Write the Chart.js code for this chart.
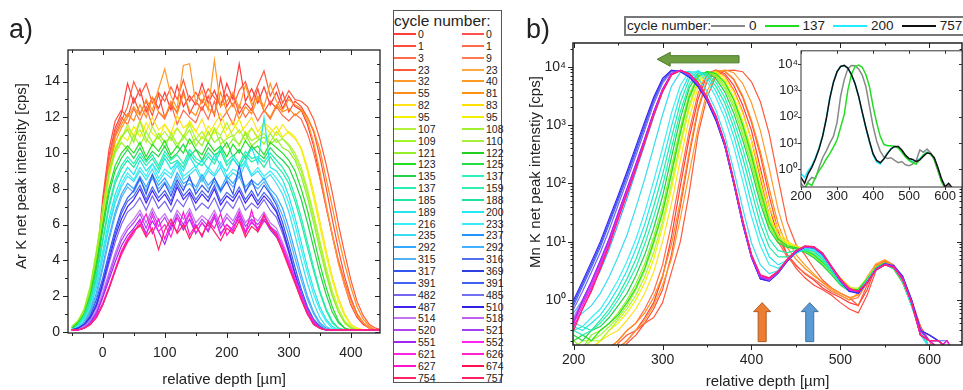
<!DOCTYPE html>
<html><head><meta charset="utf-8">
<script src="https://cdn.jsdelivr.net/npm/chart.js@4.4.1/dist/chart.umd.min.js"></script>
<style>
html,body{margin:0;padding:0;}
body{width:963px;height:390px;overflow:hidden;background:#fff;position:relative;font-family:"Liberation Sans",Arial,sans-serif;color:#222;}
canvas{position:absolute;}
.txt{position:absolute;white-space:nowrap;}
.rot{position:absolute;white-space:nowrap;transform:translate(-50%,-50%) rotate(-90deg);font-size:15px;}
#legA{position:absolute;left:393px;top:10px;width:107px;height:371px;border:1px solid #555;background:#fff;}
#legA .ttl{position:absolute;left:0px;top:0px;font-size:15.5px;line-height:20px;}
.lrow{position:absolute;height:12px;display:flex;align-items:center;font-size:10.5px;line-height:12px;}
.lrow .ln{display:inline-block;width:22px;height:2px;margin-right:2px;}
#legB{position:absolute;left:624px;top:16px;width:360px;height:16px;border:2px solid #777;background:#fff;display:flex;align-items:center;font-size:13.5px;line-height:16px;}
#legB .ln{display:inline-block;width:34px;height:2px;margin:0 4px 0 0;}
#legB .lb{margin-right:8px;}
</style></head>
<body>
<canvas id="ca" width="390" height="390" style="left:0;top:0"></canvas>
<canvas id="cb" width="443" height="390" style="left:520px;top:0"></canvas>
<canvas id="ci" width="193" height="165" style="left:770px;top:40px"></canvas>
<div class="txt" style="left:9px;top:14px;font-size:27px;">a)</div>
<div class="txt" style="left:526px;top:14px;font-size:27px;">b)</div>
<div class="rot" style="left:20px;top:176px;">Ar K net peak intensity [cps]</div>
<div class="rot" style="left:534px;top:172px;">Mn K net peak intenstiy [cps]</div>
<div id="legA"><div class="ttl">cycle number:</div></div>
<div id="legB"><span style="margin:0 0 0 1px">cycle number:</span></div>
<script>
// ---------- categories / axes ----------
const depthA = [-50,-40,-30,-20,-10,0,10,20,30,40,50,60,70,80,90,100,110,120,130,140,150,160,170,180,190,200,210,220,230,240,250,260,270,280,290,300,310,320,330,340,350,360,370,380,390,400,410,420,430,440,450];
const depthB = [200,210,220,230,240,250,260,270,280,290,300,310,320,330,340,350,360,370,380,390,400,410,420,430,440,450,460,470,480,490,500,510,520,530,540,550,560,570,580,590,600,610,620,630];
const ticksAx = [0,100,200,300,400];
const minorAx = [-50,50,150,250,350];
const ticksAy = [0,2,4,6,8,10,12,14];
const minorAy = [1,3,5,7,9,11,13,15];
const ticksBx = [200,300,400,500,600];
const minorBx = [250,350,450,550];
const ticksBy = [1,10,100,1000,10000];
const ticksIx = [200,300,400,500,600];
const ticksIy = [1,10,100,1000,10000];

// ---------- legend (cycle numbers) ----------
const labelsL = ['0','1','3','23','32','55','82','95','107','109','121','123','135','137','185','189','216','235','292','315','317','391','482','487','514','520','551','621','627','754'];
const labelsR = ['0','1','9','23','40','81','83','95','108','110','122','125','137','159','188','200','233','237','292','316','369','391','485','510','518','521','552','626','674','757'];
const colorsL = ['#ff3b3b','#ff4d3d','#ff6a4a','#ff5a3a','#ff9a2a','#ff8c1a','#ffe21a','#f2f200','#b4f23c','#a2f52a','#94ee2a','#22e022','#22d24a','#22f0b4','#22e8a2','#22e6ea','#3aeef2','#3adcf2','#36a8ff','#55b2f2','#3456f0','#4464f2','#7466f2','#4224f0','#c274f2','#b244f2','#a424f2','#ff24e2','#ff14d2','#ff2462'];
const colorsR = ['#ff5050','#ff6a4a','#ff7a50','#ffaa40','#ff9a20','#ff9010','#ffe000','#f0f000','#a0f030','#a8f040','#22d022','#22e044','#30f0c0','#30f0b0','#22e0a0','#22e8f0','#40e8f0','#2294ff','#40b0ff','#5070f0','#3040e0','#4060f0','#7070f0','#3020e0','#c060f0','#a040f0','#ff22f0','#ff22d0','#ff1050','#ff2060'];

// ---------- panel a: Ar K net peak intensity (cps) vs depthA ----------
const a0 = [null,null,null,null,null, 7.2,9.8,11.4,12.2,13.9, 12.8,13.6,12.3,13.1,12.5, 13.4,12.4,13.8,12.6,13.2, 12.7,13.9,12.8,13.5,12.6, 13.9,13.0,15.0,12.9,13.6, 12.8,13.7,12.7,13.4,12.5, 13.2,12.6,12.4,11.6,10.4, 8.7,7.0,5.4,3.9,2.6, 1.5,0.8,0.4,0.2,0.1, 0.1];
const a1 = [null,null,0.3,1.2,3.8, 7.5,10.2,11.8,12.4,12.0, 13.1,12.2,12.9,12.1,13.3, 12.0,12.7,12.3,13.5,12.2, 12.9,12.4,13.2,12.1,14.2, 12.6,13.3,12.2,12.8,12.4, 13.6,12.3,12.9,12.5,13.4, 12.3,12.9,12.6,12.0,11.2, 9.8,8.1,6.3,4.6,3.1, 1.9,1.0,0.5,0.2,0.1, 0.1];
const a2 = [0.1,0.2,0.5,1.3,3.5, 6.8,9.6,11.2,12.0,11.6, 12.5,11.8,12.6,11.5,12.3, 11.9,12.8,11.6,12.4,12.0, 11.7,12.6,11.9,12.9,11.8, 12.3,11.6,12.7,12.0,12.5, 11.8,12.4,11.9,12.6,12.1, 11.8,12.2,11.9,11.1,10.0, 8.6,7.0,5.5,4.0,2.8, 1.8,1.0,0.5,0.2,0.1, 0.1];
const a3 = [0.1,0.2,0.4,1.0,3.0, 6.2,9.0,11.0,11.8,12.6, 14.0,13.2,13.9,12.8,13.4, 12.9,13.7,13.0,14.1,12.9, 13.4,12.8,13.6,13.1,12.7, 13.3,12.6,13.5,14.0,12.9, 13.8,14.6,13.2,13.9,12.8, 13.5,13.0,12.9,12.6,11.9, 10.8,9.4,7.8,6.0,4.4, 2.9,1.7,0.9,0.4,0.2, 0.1];
const a4 = [0.1,0.2,0.5,1.2,3.2, 6.0,8.8,10.6,11.4,12.0, 12.6,12.1,13.0,12.4,13.6, 14.7,13.2,12.5,14.9,15.0, 12.8,13.5,12.4,15.2,12.6, 12.9,13.4,12.5,13.8,12.7, 13.2,12.6,13.9,12.9,12.4, 13.0,12.7,12.5,11.8,10.6, 9.0,7.2,5.4,3.8,2.6, 1.6,0.9,0.5,0.2,0.1, 0.1];
const a5 = [0.1,0.3,0.7,1.6,3.8, 6.5,9.2,10.9,11.6,12.2, 11.8,12.7,12.0,13.1,12.3, 12.0,12.9,12.2,13.3,12.4, 12.1,13.0,12.5,12.2,13.4, 12.3,12.8,11.9,12.6,12.2, 13.1,12.4,12.0,12.7,12.3, 12.5,12.1,12.4,12.0,11.3, 10.2,8.6,7.0,5.3,3.8, 2.5,1.4,0.7,0.3,0.1, 0.1];
const a6 = [0.2,0.4,0.9,1.9,3.9, 6.3,8.6,10.1,10.9,11.4, 11.0,11.8,11.2,12.0,11.3, 11.6,11.1,12.1,11.4,11.7, 11.2,11.9,11.0,11.6,12.2, 11.3,11.8,11.1,11.5,12.0, 11.2,11.7,11.4,11.0,11.6, 11.1,10.8,10.3,9.2,7.8, 6.2,4.6,3.1,1.9,1.0, 0.4,0.2,0.1,0.1,0.1, 0.1];
const a7 = [0.2,0.5,1.0,2.1,4.2, 6.6,8.9,10.3,11.0,10.7, 11.5,10.9,11.7,11.1,10.8, 11.6,11.0,11.4,10.9,11.8, 11.2,10.8,11.5,11.1,11.7, 10.9,11.3,11.9,11.0,11.4, 10.8,11.6,11.1,11.5,10.9, 11.2,10.9,10.2,9.0,7.5, 5.9,4.3,2.9,1.7,0.9, 0.4,0.2,0.1,0.1,0.1, 0.1];
const a8 = [0.3,0.6,1.3,2.6,4.6, 6.9,9.0,10.2,10.8,11.6, 10.9,11.3,10.6,11.5,10.8, 11.2,10.7,11.4,10.9,11.6, 10.8,11.2,10.6,11.3,11.0, 11.7,10.9,11.3,10.7,11.4, 10.9,11.1,10.6,11.2,10.8, 10.5,10.0,9.2,8.0,6.6, 5.1,3.6,2.3,1.3,0.6, 0.3,0.1,0.1,0.1,0.1, 0.1];
const a9 = [0.2,0.5,1.1,2.3,4.3, 6.7,8.8,10.0,10.6,10.2, 11.0,10.4,11.2,10.6,10.9, 10.3,11.1,10.5,10.8,11.3, 10.4,10.9,10.6,11.4,10.5, 10.8,11.0,10.4,11.2,10.7, 10.9,10.5,11.1,10.6,10.8, 10.4,9.8,9.0,7.8,6.4, 4.9,3.4,2.1,1.1,0.5, 0.2,0.1,0.1,0.1,0.1, 0.1];
const a10 = [0.3,0.6,1.2,2.5,4.5, 6.8,8.9,10.2,10.9,11.3, 10.6,11.8,10.8,10.4,11.1, 10.6,10.9,10.3,11.0,10.5, 10.8,10.4,11.2,10.6,10.9, 10.3,10.8,10.5,11.1,10.4, 10.7,10.9,10.5,10.8,10.3, 10.1,9.6,8.7,7.5,6.1, 4.6,3.2,2.0,1.1,0.5, 0.2,0.1,0.1,0.1,0.1, 0.1];
const a11 = [0.2,0.5,1.0,2.1,3.9, 6.0,8.0,9.3,10.0,10.4, 10.0,10.6,9.8,10.5,10.1, 10.7,9.9,10.4,10.0,10.8, 10.2,9.9,10.6,10.1,10.4, 9.8,10.5,10.0,10.7,10.2, 10.4,9.9,10.6,10.3,10.0, 9.6,9.0,8.0,6.8,5.3, 3.8,2.5,1.4,0.6,0.2, 0.1,0.1,0.1,0.1,0.1, 0.1];
const a12 = [0.2,0.4,0.9,1.9,3.6, 5.7,7.7,9.0,9.7,10.2, 9.7,10.3,9.6,10.1,9.8, 10.4,9.7,10.0,10.5,9.8, 10.2,9.6,10.3,9.9,10.1, 10.6,9.8,10.2,9.7,10.4, 10.0,9.7,10.3,9.9,9.6, 9.2,8.4,7.4,6.1,4.7, 3.3,2.1,1.1,0.5,0.2, 0.1,0.1,0.1,0.1,0.1, 0.1];
const a13 = [0.1,0.4,0.9,1.8,3.3, 5.2,7.1,8.5,9.3,9.8, 9.4,10.0,9.5,9.9,9.3, 10.1,9.6,9.9,9.4,10.2, 9.7,9.5,10.0,9.6,10.3, 9.5,9.9,9.4,10.1,9.7, 9.8,9.5,10.0,9.6,9.2, 8.6,7.6,6.4,5.0,3.6, 2.3,1.3,0.6,0.2,0.1, 0.1,0.1,0.1,0.1,0.1, 0.1];
const a14 = [0.1,0.3,0.8,1.7,3.1, 5.0,6.9,8.3,9.1,9.6, 9.2,9.8,9.3,9.7,9.1, 9.9,9.4,9.6,9.2,10.0, 9.5,9.3,9.8,9.4,10.1, 9.3,9.7,9.2,9.9,9.5, 9.7,9.2,9.8,9.3,8.9, 8.3,7.3,6.1,4.7,3.4, 2.2,1.2,0.5,0.2,0.1, 0.1,0.1,0.1,0.1,0.1, 0.1];
const a15 = [0.1,0.3,0.7,1.5,2.8, 4.5,6.3,7.7,8.6,9.2, 8.8,9.6,9.0,9.4,8.9, 9.7,9.1,9.5,9.0,9.8, 9.2,9.6,9.1,9.9,9.3, 9.0,9.7,9.2,9.5,10.3, 9.4,12.0,9.2,9.0,8.5, 7.6,6.4,5.0,3.6,2.4, 1.4,0.7,0.3,0.1,0.1, 0.1,0.1,0.1,0.1,0.1, 0.1];
const a16 = [0.1,0.3,0.7,1.4,2.7, 4.3,6.0,7.4,8.3,8.9, 8.5,9.2,8.7,9.4,8.6, 9.1,8.8,9.5,8.7,9.0, 9.3,8.6,9.2,8.8,9.5, 8.7,9.1,8.9,9.6,8.8, 9.2,8.7,9.0,8.6,8.1, 7.2,6.0,4.6,3.3,2.1, 1.2,0.6,0.2,0.1,0.1, 0.1,0.1,0.1,0.1,0.1, 0.1];
const a17 = [0.1,0.2,0.6,1.3,2.5, 4.1,5.8,7.2,8.1,8.7, 8.4,9.0,8.5,9.1,8.4, 8.9,8.6,9.3,8.5,8.8, 9.1,8.4,9.0,8.7,9.2, 8.5,8.9,8.6,9.4,8.7, 9.0,8.5,8.8,8.3,7.7, 6.7,5.4,4.0,2.7,1.6, 0.8,0.3,0.1,0.1,0.1, 0.1,0.1,0.1,0.1,0.1, 0.1];
const a18 = [0.1,0.2,0.5,1.1,2.2, 3.7,5.3,6.7,7.7,8.3, 8.0,8.7,8.1,8.8,8.2, 8.6,8.0,8.9,8.3,8.5, 8.1,8.8,8.2,8.6,8.0, 8.7,8.3,8.9,8.1,8.5, 8.2,8.6,8.0,7.6,6.9, 5.8,4.5,3.2,2.0,1.1, 0.5,0.2,0.1,0.1,0.1, 0.1,0.1,0.1,0.1,0.1, 0.1];
const a19 = [0.1,0.2,0.5,1.0,2.0, 3.5,5.1,6.5,7.5,8.1, 7.8,8.5,7.9,8.6,8.0, 8.4,7.8,8.7,8.1,8.3, 7.9,8.6,8.0,8.4,7.8, 8.5,8.1,8.7,7.9,8.3, 8.0,8.4,7.8,7.3,6.5, 5.4,4.1,2.9,1.8,1.0, 0.4,0.2,0.1,0.1,0.1, 0.1,0.1,0.1,0.1,0.1, 0.1];
const a20 = [0.1,0.2,0.4,0.9,1.8, 3.0,4.4,5.7,6.8,7.5, 7.9,8.6,7.7,8.8,7.8, 8.3,7.6,8.5,7.9,8.7, 7.7,8.2,7.8,8.6,7.9, 8.4,7.7,9.3,7.8,8.5, 7.6,8.2,7.7,7.1,6.1, 4.9,3.6,2.4,1.4,0.7, 0.3,0.1,0.1,0.1,0.1, 0.1,0.1,0.1,0.1,0.1, 0.1];
const a21 = [0.1,0.2,0.4,0.8,1.6, 2.8,4.2,5.5,6.6,7.3, 7.6,8.2,7.4,8.1,7.5, 7.9,7.3,8.3,7.6,8.0, 7.4,7.9,7.5,8.2,7.3, 7.8,7.5,8.1,7.4,7.9, 7.3,7.8,7.4,6.8,5.8, 4.6,3.3,2.2,1.3,0.6, 0.3,0.1,0.1,0.1,0.1, 0.1,0.1,0.1,0.1,0.1, 0.1];
const a22 = [0.1,0.1,0.3,0.7,1.4, 2.5,3.8,5.0,6.0,6.7, 7.0,7.5,6.8,7.6,6.9, 7.3,6.7,7.4,7.0,7.7, 6.8,7.2,6.9,7.5,6.7, 7.3,6.9,7.6,6.8,7.2, 6.9,7.4,6.8,6.4,5.5, 4.4,3.2,2.1,1.2,0.6, 0.2,0.1,0.1,0.1,0.1, 0.1,0.1,0.1,0.1,0.1, 0.1];
const a23 = [0.1,0.2,0.4,0.8,1.5, 2.7,4.0,5.3,6.3,7.0, 7.4,8.0,7.2,7.9,7.3, 7.7,7.1,8.1,7.4,7.8, 7.2,7.7,7.3,8.0,7.1, 7.6,7.3,7.9,7.2,7.7, 7.1,7.6,7.2,6.7,5.7, 4.5,3.2,2.1,1.2,0.6, 0.2,0.1,0.1,0.1,0.1, 0.1,0.1,0.1,0.1,0.1, 0.1];
const a24 = [0.1,0.1,0.3,0.6,1.2, 2.2,3.3,4.4,5.3,5.9, 6.3,6.8,6.1,6.9,6.2, 6.6,6.0,6.8,6.3,6.9, 6.1,6.5,6.2,6.8,6.0, 6.6,6.2,6.9,6.1,6.5, 6.2,6.7,6.1,5.8,5.0, 4.1,3.0,2.0,1.1,0.5, 0.2,0.1,0.1,0.1,0.1, 0.1,0.1,0.1,0.1,0.1, 0.1];
const a25 = [0.1,0.1,0.2,0.5,1.1, 2.0,3.1,4.2,5.1,5.7, 6.1,6.6,5.8,6.7,5.9, 6.4,5.7,6.6,6.0,6.7, 5.8,6.3,5.9,6.6,5.8, 6.4,6.0,6.7,5.9,6.3, 6.0,6.5,5.9,5.6,4.8, 3.9,2.9,1.9,1.0,0.5, 0.2,0.1,0.1,0.1,0.1, 0.1,0.1,0.1,0.1,0.1, 0.1];
const a26 = [0.1,0.1,0.2,0.5,1.0, 1.9,2.9,3.9,4.8,5.4, 5.8,6.3,5.5,6.2,5.6, 4.9,5.9,6.4,5.7,6.3, 5.5,6.1,5.6,6.4,5.5, 6.0,5.7,6.5,5.6,6.1, 5.8,6.3,5.7,5.3,4.6, 3.7,2.8,1.8,1.0,0.4, 0.2,0.1,0.1,0.1,0.1, 0.1,0.1,0.1,0.1,0.1, 0.1];
const a27 = [0.1,0.1,0.2,0.4,0.8, 1.5,2.4,3.4,4.3,5.0, 5.5,6.2,5.4,6.5,5.6, 6.0,5.3,6.4,5.8,6.6, 5.5,6.1,5.7,6.5,5.4, 6.0,5.6,6.7,5.5,6.2, 5.7,6.6,5.8,5.5,4.8, 3.9,3.0,2.1,1.2,0.6, 0.2,0.1,0.1,0.1,0.1, 0.1,0.1,0.1,0.1,0.1, 0.1];
const a28 = [0.1,0.1,0.2,0.4,0.9, 1.6,2.5,3.5,4.5,5.2, 5.7,5.9,6.6,5.5,6.3, 5.2,6.1,5.6,6.7,5.4, 6.0,5.3,6.2,5.8,6.6, 5.4,5.9,6.3,5.5,6.8, 5.6,6.2,5.9,5.4,4.6, 3.7,2.8,1.9,1.0,0.5, 0.2,0.1,0.1,0.1,0.1, 0.1,0.1,0.1,0.1,0.1, 0.1];
const a29 = [0.1,0.1,0.2,0.4,0.8, 1.5,2.4,3.4,4.4,5.1, 5.6,6.0,5.3,5.8,4.6, 5.7,6.3,5.5,6.0,5.2, 5.9,5.4,6.1,5.6,5.1, 5.8,5.5,6.2,5.3,5.9, 5.6,6.5,5.8,5.4,4.5, 3.6,2.7,1.8,1.0,0.4, 0.2,0.1,0.1,0.1,0.1, 0.1,0.1,0.1,0.1,0.1, 0.1];
const seriesA = [a0,a1,a2,a3,a4,a5,a6,a7,a8,a9,a10,a11,a12,a13,a14,a15,a16,a17,a18,a19,a20,a21,a22,a23,a24,a25,a26,a27,a28,a29];

// ---------- panel b: Mn K net peak intensity (cps, log) vs depthB ----------
const b0 = [0.1,0.1,0.1,0.1,0.1, 0.15,0.2,0.3,0.5,0.9, 2.5,12,90,600,2800, 7200,8800,7600,4800,2200, 800,180,40,12,6, 4,2.8,2.2,1.6,1.3, 1.1,0.9,0.8,1.5,3.8, 4.6,3.6,2.1,0.9,0.3, 0.15,0.1,0.1,0.1];
const b1 = [0.1,0.1,0.1,0.1,0.1, 0.1,0.18,0.25,0.4,0.7, 1.5,6,40,300,1800, 5600,8500,8300,6000,3000, 1100,300,60,15,6, 3.5,2.4,1.8,1.5,1.2, 0.9,0.7,0.6,1.2,3.2, 4.8,4.0,2.4,1.0,0.35, 0.15,0.1,0.1,0.1];
const b2 = [0.1,0.1,0.1,0.1,0.15, 0.2,0.3,0.4,0.7,1.4, 4,20,130,800,3500, 7800,8700,7000,4000,1700, 550,120,28,10,5.5, 3.8,2.9,2.3,1.8,1.4, 1.2,1.0,1.1,2.0,4.0, 4.4,3.4,2.0,0.8,0.3, 0.15,0.1,0.1,0.1];
const b3 = [0.1,0.1,0.1,0.1,0.1, 0.18,0.25,0.3,0.4,0.5, 0.9,3,10,70,700, 3000,6800,8600,8700,8200, 5500,2500,700,120,22, 9,6,3.5,2.2,1.6, 1.3,1.1,0.8,1.8,3.5, 4.5,3.5,2.0,0.9,0.35, 0.2,0.1,0.1,0.1];
const b4 = [0.1,0.1,0.1,0.1,0.1, 0.15,0.2,0.3,0.45,0.8, 1.8,5,25,150,900, 3800,7600,8800,7900,5200, 2400,800,180,35,11, 6,4,2.8,2.0,1.5, 1.2,1.0,1.3,2.5,4.2, 4.9,3.8,2.2,0.9,0.3, 0.15,0.1,0.1,0.1];
const b5 = [0.1,0.1,0.1,0.1,0.15, 0.2,0.3,0.4,0.6,1.1, 2.6,9,50,350,2000, 6000,8600,8400,6200,3200, 1200,350,80,20,8, 5,3.5,2.6,2.0,1.6, 1.3,1.1,1.2,2.2,3.9, 4.7,3.7,2.1,0.9,0.3, 0.15,0.1,0.1,0.1];
const b6 = [0.1,0.1,0.15,0.2,0.25, 0.3,0.45,0.7,1.3,3, 10,45,250,1300,4500, 7600,8200,6500,3700,1600, 550,150,40,16,10, 8.5,7.5,6.5,5,3.6, 2.4,1.7,1.5,2.2,3.5, 4.2,3.6,2.2,0.9,0.3, 0.15,0.1,0.1,0.1];
const b7 = [0.1,0.1,0.15,0.2,0.3, 0.4,0.6,1.0,2.0,5, 18,80,420,1900,5400, 7800,7900,5800,3000,1200, 380,95,28,13,9.5, 8.2,7.3,6.2,4.7,3.3, 2.2,1.6,1.5,2.3,3.6, 4.3,3.5,2.1,0.8,0.3, 0.15,0.1,0.1,0.1];
const b8 = [0.1,0.15,0.2,0.2,0.3, 0.45,0.7,1.2,2.5,6.5, 22,100,500,2200,5800, 7900,7700,5500,2800,1100, 340,85,25,12,9, 8,7.2,6.0,4.5,3.2, 2.1,1.6,1.6,2.4,3.7, 4.3,3.6,2.2,0.9,0.3, 0.15,0.1,0.1,0.1];
const b9 = [0.15,0.2,0.2,0.25,0.35, 0.5,0.8,1.5,3.2,9, 30,140,700,2800,6500, 8000,7200,4800,2300,850, 260,65,20,11,8.5, 7.8,7.0,5.8,4.3,3.0, 2.0,1.5,1.5,2.3,3.6, 4.2,3.5,2.1,0.8,0.3, 0.15,0.1,0.1,0.1];
const b10 = [0.2,0.15,0.25,0.3,0.4, 0.6,1.0,1.9,4.2,12, 40,190,900,3400,7000, 8100,6800,4300,2000,700, 210,55,18,10,8, 7.6,6.8,5.6,4.1,2.9, 1.9,1.5,1.4,2.2,3.5, 4.1,3.4,2.0,0.8,0.3, 0.15,0.1,0.1,0.1];
const b11 = [0.2,0.25,0.2,0.3,0.4, 0.55,0.9,1.6,3.5,10, 32,150,750,3000,6800, 8300,7600,5300,2700,1000, 300,75,22,11,8.5, 7.9,7.1,6.0,4.4,3.1, 2.0,1.5,1.5,2.3,3.6, 4.3,3.6,2.2,0.9,0.3, 0.15,0.1,0.1,0.1];
const b12 = [0.25,0.2,0.3,0.35,0.5, 0.8,1.3,2.6,6,17, 60,280,1300,4300,7600, 8000,6200,3700,1600,560, 170,45,16,9.5,8, 7.5,6.6,5.3,3.9,2.7, 1.8,1.4,1.4,2.2,3.5, 4.1,3.4,2.0,0.8,0.3, 0.15,0.1,0.1,0.1];
const b13 = [0.3,0.25,0.3,0.4,0.6, 1.0,1.8,3.6,9,26, 90,400,1700,5000,8000, 7600,5400,3000,1200,400, 110,30,11,7,6.5, 7,7.2,6.2,4.6,3.0, 1.9,1.4,1.4,2.2,3.5, 4.1,3.5,2.1,0.8,0.3, 0.15,0.1,0.1,0.1];
const b14 = [0.3,0.35,0.3,0.45,0.7, 1.2,2.3,5,13,40, 140,600,2400,6200,8400, 7100,4600,2400,900,280, 75,20,8,5.5,5.5, 6.5,7.4,6.8,5.0,3.2, 2.0,1.4,1.4,2.2,3.5, 4.1,3.5,2.1,0.8,0.3, 0.15,0.1,0.1,0.1];
const b15 = [0.35,0.3,0.4,0.55,0.9, 1.6,3.2,7.5,20,65, 230,950,3400,7300,8500, 6500,3800,1800,650,180, 45,13,5.5,4.0,4.8, 6.3,7.5,7.0,5.3,3.4, 2.1,1.5,1.4,2.1,3.4, 4.1,3.6,2.2,0.8,0.3, 0.15,0.1,0.1,0.1];
const b16 = [0.4,0.35,0.5,0.7,1.2, 2.2,4.6,11,32,110, 400,1600,4800,8200,8100, 5600,3000,1300,430,110, 27,8.5,4.0,3.5,4.6, 6.4,7.7,7.3,5.5,3.5, 2.1,1.5,1.4,2.1,3.4, 4.1,3.6,2.2,0.8,0.3, 0.15,0.1,0.1,0.1];
const b17 = [0.45,0.6,0.8,1.3,2.5, 5.5,13,38,120,420, 1500,4600,8000,8300,6300, 3800,1800,650,170,38, 9.5,4.0,2.8,3.2,4.8, 6.7,8.0,7.6,5.8,3.5, 2.1,1.5,1.4,2.0,3.3, 4.0,3.6,2.2,0.8,0.25, 0.15,0.1,0.1,0.1];
const b18 = [0.5,0.9,1.6,3.2,7.5, 20,55,160,470,1400, 3700,7200,8600,7600,5300, 3000,1400,480,110,22, 5.8,2.6,2.3,3.0,4.8, 6.8,8.1,7.9,6.0,3.6, 2.2,1.5,1.4,2.0,3.2, 4.0,3.6,2.3,0.9,0.25, 0.2,0.15,0.1,0.1];
const b19 = [0.6,1.0,2.0,4.4,10, 28,75,200,560,1600, 4000,7500,8600,7400,5100, 2800,1300,460,105,21, 5.5,2.5,2.2,3.0,4.7, 6.7,8.2,8.0,6.1,3.6, 2.2,1.5,1.4,2.0,3.3, 4.0,3.7,2.3,0.9,0.25, 0.2,0.2,0.15,0.1];
const b20 = [0.9,1.9,4,9,22, 55,140,380,1000,2700, 5800,8600,8400,6800,4600, 2600,1200,440,100,21, 5.4,2.3,2.1,2.9,4.6, 6.6,8.0,7.9,6.1,3.7, 2.2,1.5,1.3,2.0,3.3, 4.1,3.8,2.5,1.0,0.3, 0.25,0.2,0.15,0.1];
const b21 = [0.8,1.7,3.6,8,20, 50,130,350,950,2600, 5700,8500,8500,6900,4700, 2700,1250,450,105,22, 5.6,2.4,2.2,3.0,4.7, 6.8,8.2,8.0,6.2,3.7, 2.2,1.5,1.3,2.0,3.4, 4.2,3.9,2.6,1.0,0.3, 0.25,0.2,0.2,0.1];
const b22 = [0.7,1.4,3.0,6.5,16, 42,110,300,820,2300, 5200,8200,8600,7100,4900, 2750,1300,460,105,21, 5.5,2.4,2.2,3.0,4.7, 6.7,8.1,7.9,6.1,3.6, 2.2,1.5,1.4,2.0,3.3, 4.0,3.7,2.4,0.9,0.3, 0.2,0.2,0.15,0.1];
const b23 = [1.0,2.1,4.5,10,25, 62,160,430,1150,3000, 6300,8700,8200,6600,4500, 2600,1200,430,100,20, 5.3,2.3,2.1,2.9,4.6, 6.6,8.0,7.9,6.0,3.6, 2.1,1.4,1.3,2.0,3.3, 4.1,3.8,2.5,1.0,0.3, 0.25,0.2,0.15,0.1];
const b24 = [0.5,1.0,2.0,4.6,11, 30,80,210,580,1650, 4100,7600,8600,7400,5100, 2850,1350,470,108,22, 5.6,2.5,2.2,3.0,4.8, 6.8,8.2,8.0,6.2,3.6, 2.2,1.5,1.4,2.0,3.3, 4.0,3.7,2.3,0.9,0.25, 0.2,0.2,0.15,0.1];
const b25 = [0.45,0.9,1.9,4.3,10.5, 29,78,205,570,1620, 4050,7550,8600,7450,5150, 2880,1360,480,110,22, 5.7,2.5,2.2,3.1,4.8, 6.9,8.3,8.1,6.2,3.6, 2.2,1.5,1.4,2.0,3.3, 4.0,3.7,2.3,0.9,0.25, 0.2,0.15,0.2,0.1];
const b26 = [0.4,1.0,2.1,4.8,11.5, 31,82,215,590,1680, 4150,7650,8650,7400,5100, 2850,1340,470,108,22, 5.6,2.4,2.3,3.0,4.8, 6.8,8.2,8.0,6.1,3.7, 2.3,1.5,1.4,2.0,3.4, 4.1,3.7,2.4,0.9,0.3, 0.2,0.2,0.15,0.1];
const b27 = [0.4,0.8,1.7,3.9,9.5, 27,72,190,540,1550, 3900,7400,8600,7500,5200, 2900,1400,490,112,23, 5.8,2.6,2.3,3.1,4.9, 6.9,8.3,8.1,6.3,3.7, 2.2,1.5,1.4,2.0,3.3, 4.0,3.7,2.3,0.9,0.25, 0.2,0.2,0.15,0.1];
const b28 = [0.35,0.7,1.5,3.6,9, 25,68,180,520,1500, 3800,7300,8600,7600,5300, 2950,1420,500,115,23, 5.9,2.6,2.4,3.1,4.9, 7.0,8.4,8.2,6.3,3.7, 2.2,1.5,1.4,2.0,3.3, 4.0,3.7,2.3,0.9,0.25, 0.2,0.15,0.2,0.1];
const b29 = [0.3,0.7,1.4,3.4,8.5, 24,65,175,500,1450, 3700,7200,8500,7600,5300, 2950,1430,500,115,24, 6.0,2.7,2.4,3.1,4.9, 7.0,8.4,8.2,6.4,3.8, 2.3,1.6,1.4,2.0,3.3, 4.0,3.6,2.2,0.9,0.25, 0.2,0.2,0.15,0.1];
const seriesB = [b0,b1,b2,b3,b4,b5,b6,b7,b8,b9,b10,b11,b12,b13,b14,b15,b16,b17,b18,b19,b20,b21,b22,b23,b24,b25,b26,b27,b28,b29];

// ---------- inset (4 cycles) ----------
const insetLabels = ['0','137','200','757'];
const insetColors = ['#888888','#22dd22','#22eeff','#111111'];
const inset0 = [0.3,0.2,0.35,0.5,0.45, 1.2,2.8,5,10,18, 60,600,2500,6500,8800, 8500,6500,3800,1400,250, 45,12,5,3,2.6, 2.8,2.2,1.8,2.0,1.5, 1.4,1.6,2.2,5.5,4.5, 6,4.2,2.3,0.9,0.35, 0.2,0.25,0.15,null];
const inset137 = [0.12,0.2,0.3,0.25,0.5, 0.9,1.4,2.5,4,7, 13,40,120,1000,4000, 8000,9000,7500,4000,1400, 250,60,18,9,8, 8,7.5,6.5,4.5,3, 2.2,1.8,1.6,2.4,3.6, 4.4,3.8,2.5,1.0,0.35, 0.2,0.18,0.15,null];
const inset200 = [0.7,0.5,0.9,1.4,2.8, 6.5,19,85,520,2050, 5100,8100,8700,6900,3900, 1750,580,145,38,11, 3.6,1.9,1.6,2.6,4.2, 6.2,7.4,7.2,5.2,3.3, 2.4,2.0,2.2,2.6,3.6, 4.6,3.8,2.6,1.1,0.4, 0.25,0.2,0.18,null];
const inset757 = [0.5,0.3,0.7,1.2,2.5, 6,18,80,500,2000, 5000,8000,8800,7000,4000, 1800,600,150,40,12, 4,2.2,1.8,2.5,4, 6,7.5,7.5,5.5,3.5, 2.6,2.4,2.0,2.3,3.2, 4.2,4.0,2.8,1.2,0.45, 0.22,0.3,0.2,null];
const seriesI = [inset0,inset137,inset200,inset757];
const insetOrder = [2,1,3,0];

// ---------- annotation arrows (data coordinates of panel b) ----------
const arrowsB = [
  {dir:'left', tail:386, tip:294, at:13400, fill:'#6f9e42', stroke:'#4f7a2c'},
  {dir:'up', at:412, tail:0.193, tip:0.9, fill:'#ed7d31', stroke:'#ae5a22'},
  {dir:'up', at:465.5, tail:0.193, tip:0.9, fill:'#5b9bd5', stroke:'#41719c'}
];

// ================= rendering =================
Chart.defaults.font.family = '"Liberation Sans", Arial, sans-serif';
Chart.defaults.color = '#222';

const sup = {'0':'\u2070','1':'\u00b9','2':'\u00b2','3':'\u00b3','4':'\u2074'};
const fmtPow = v => '10' + sup[String(Math.round(Math.log10(v)))];
const logMinor = (lo, hi) => { const r=[]; for (let e=Math.floor(Math.log10(lo)); e<=Math.ceil(Math.log10(hi)); e++) for (let k=2;k<=9;k++){ const v=k*Math.pow(10,e); if(v>=lo&&v<=hi) r.push(v);} return r; };

const frameTicks = {
  id:'frameTicks',
  afterDatasetsDraw(chart, args, o){
    const {ctx, chartArea:a, scales:{x,y}} = chart;
    ctx.save();
    ctx.strokeStyle = o.color; ctx.lineWidth = o.tickWidth;
    ctx.beginPath();
    const addX = (vals,len)=>{ for(const v of vals){ const p=Math.round(x.getPixelForValue(v))+0.5; if(p<a.left-0.6||p>a.right+0.6) continue; ctx.moveTo(p,a.bottom); ctx.lineTo(p,a.bottom+len*o.bottomDir); if(o.top){ctx.moveTo(p,a.top); ctx.lineTo(p,a.top+len);} } };
    const addY = (vals,len)=>{ for(const v of vals){ const p=Math.round(y.getPixelForValue(v))+0.5; if(p<a.top-0.6||p>a.bottom+0.6) continue; ctx.moveTo(a.left,p); ctx.lineTo(a.left-len*o.leftDir,p); if(o.right){ctx.moveTo(a.right,p); ctx.lineTo(a.right-len,p);} } };
    addX(o.xMajor,o.majorLen); addX(o.xMinor,o.minorLen); addY(o.yMajor,o.majorLen); addY(o.yMinor,o.minorLen);
    ctx.stroke();
    ctx.lineWidth = o.frameWidth;
    ctx.strokeRect(a.left, a.top, a.right-a.left, a.bottom-a.top);
    ctx.restore();
  }
};
const whiteArea = { id:'whiteArea', beforeDatasetsDraw(chart){ const {ctx,chartArea:a}=chart; ctx.save(); ctx.fillStyle='#fff'; ctx.fillRect(a.left,a.top,a.right-a.left,a.bottom-a.top); ctx.restore(); } };
const arrowPlugin = {
  id:'arrows',
  afterDatasetsDraw(chart, args, o){
    const {ctx, scales:{x,y}} = chart;
    for (const ar of o.items){
      ctx.save(); ctx.fillStyle=ar.fill; ctx.strokeStyle=ar.stroke; ctx.lineWidth=1; ctx.beginPath();
      if (ar.dir==='left'){
        const xt=x.getPixelForValue(ar.tip), xe=x.getPixelForValue(ar.tail), yc=y.getPixelForValue(ar.at);
        const hb=3.6, hh=7, hl=13;
        ctx.moveTo(xt,yc); ctx.lineTo(xt+hl,yc-hh); ctx.lineTo(xt+hl,yc-hb); ctx.lineTo(xe,yc-hb); ctx.lineTo(xe,yc+hb); ctx.lineTo(xt+hl,yc+hb); ctx.lineTo(xt+hl,yc+hh);
      } else {
        const xc=x.getPixelForValue(ar.at), yt=y.getPixelForValue(ar.tip), yb=y.getPixelForValue(ar.tail);
        const hb=4, hh=8.5, hl=9;
        ctx.moveTo(xc,yt); ctx.lineTo(xc+hh,yt+hl); ctx.lineTo(xc+hb,yt+hl); ctx.lineTo(xc+hb,yb); ctx.lineTo(xc-hb,yb); ctx.lineTo(xc-hb,yt+hl); ctx.lineTo(xc-hh,yt+hl);
      }
      ctx.closePath(); ctx.fill(); ctx.stroke(); ctx.restore();
    }
  }
};

function xScale(min,max,ticks,fs,pad,h,title,tpad){
  return {type:'linear',min,max,
    afterBuildTicks: s=>{ s.ticks = ticks.map(v=>({value:v})); },
    afterFit: s=>{ s.height = h; },
    ticks:{autoSkip:false,maxRotation:0,minRotation:0,padding:pad,font:{size:fs},color:'#222',callback:v=>String(v)},
    grid:{display:false,drawTicks:false}, border:{display:false},
    title: title ? {display:true,text:title,font:{size:15,lineHeight:1},color:'#222',padding:{top:0,bottom:tpad}} : {display:false}
  };
}
function yScale(type,min,max,ticks,fs,pad,w,fmt){
  return {type,min,max,
    afterBuildTicks: s=>{ s.ticks = ticks.map(v=>({value:v})); },
    afterFit: s=>{ s.width = w; },
    ticks:{autoSkip:false,padding:pad,font:{size:fs},color:'#222',callback:fmt},
    grid:{display:false,drawTicks:false}, border:{display:false}
  };
}
function ds(xs, ys, color, label, order, width){
  return {label, data: xs.map((x,i)=>({x, y: ys[i]})), borderColor: color, backgroundColor: color,
          borderWidth: width, pointRadius: 0, tension: 0, fill: false, order, spanGaps: false};
}
const common = {responsive:false, animation:false, devicePixelRatio:1, events:[]};

// panel a
new Chart(document.getElementById('ca'), {
  type:'line',
  data:{datasets: seriesA.map((s,i)=>ds(depthA, s, colorsL[i], labelsL[i], seriesA.length-1-i, 1.2))},
  options:{...common,
    layout:{padding:{left:0,top:50,right:10,bottom:0}},
    plugins:{legend:{display:false},tooltip:{enabled:false},
      frameTicks:{xMajor:ticksAx,xMinor:minorAx,yMajor:ticksAy,yMinor:minorAy,majorLen:5,minorLen:3,bottomDir:1,leftDir:1,top:true,right:true,color:'#222',tickWidth:1,frameWidth:1.3}},
    scales:{ x: xScale(-56,447,ticksAx,14,12,57,'relative depth [\u00b5m]',2.5),
             y: yScale('linear',-0.07,15.77,ticksAy,14,8,68,v=>String(v)) }
  },
  plugins:[frameTicks]
});

// panel b
new Chart(document.getElementById('cb'), {
  type:'line',
  data:{datasets: seriesB.map((s,i)=>ds(depthB, s, colorsL[i], labelsL[i], seriesB.length-1-i, 1.2))},
  options:{...common,
    layout:{padding:{left:0,top:43,right:1,bottom:0}},
    plugins:{legend:{display:false},tooltip:{enabled:false},
      arrows:{items:arrowsB},
      frameTicks:{xMajor:ticksBx,xMinor:minorBx,yMajor:ticksBy,yMinor:logMinor(0.169,25470),majorLen:5,minorLen:2.5,bottomDir:1,leftDir:1,top:true,right:true,color:'#222',tickWidth:1,frameWidth:1.5}},
    scales:{ x: xScale(199.3,636.7,ticksBx,14,7,45,'relative depth [\u00b5m]',0.5),
             y: yScale('logarithmic',0.169,25470,ticksBy,14,7,53,fmtPow) }
  },
  plugins:[arrowPlugin, frameTicks]
});

// inset
new Chart(document.getElementById('ci'), {
  type:'line',
  data:{datasets: seriesI.map((s,i)=>ds(depthB, s, insetColors[i], insetLabels[i], insetOrder[i], 1.5))},
  options:{...common,
    layout:{padding:{left:0,top:7,right:1,bottom:0}},
    plugins:{legend:{display:false},tooltip:{enabled:false},
      frameTicks:{xMajor:ticksIx,xMinor:[],yMajor:ticksIy,yMinor:[],majorLen:3,minorLen:2,bottomDir:1,leftDir:1,top:true,right:true,color:'#333',tickWidth:1,frameWidth:1}},
    scales:{ x: xScale(200,647,ticksIx,13,2,18,null,0),
             y: yScale('logarithmic',0.217,31500,ticksIy,13,3,31,fmtPow) }
  },
  plugins:[whiteArea, frameTicks]
});

// legend of panel a (two columns)
const legA = document.getElementById('legA');
[[labelsL, colorsL, 0], [labelsR, colorsR, 68]].forEach(([labs, cols, off]) => {
  labs.forEach((t, i) => {
    const row = document.createElement('div');
    row.className = 'lrow';
    row.style.left = off + 'px';
    row.style.top = (17 + i * 11.85) + 'px';
    const ln = document.createElement('span'); ln.className = 'ln'; ln.style.background = cols[i];
    const tx = document.createElement('span'); tx.textContent = t;
    row.appendChild(ln); row.appendChild(tx);
    legA.appendChild(row);
  });
});
// legend of panel b
const legB = document.getElementById('legB');
insetLabels.forEach((t, i) => {
  const ln = document.createElement('span'); ln.className = 'ln'; ln.style.background = insetColors[i];
  const tx = document.createElement('span'); tx.className = 'lb'; tx.textContent = t;
  legB.appendChild(ln); legB.appendChild(tx);
});
</script>
</body></html>
